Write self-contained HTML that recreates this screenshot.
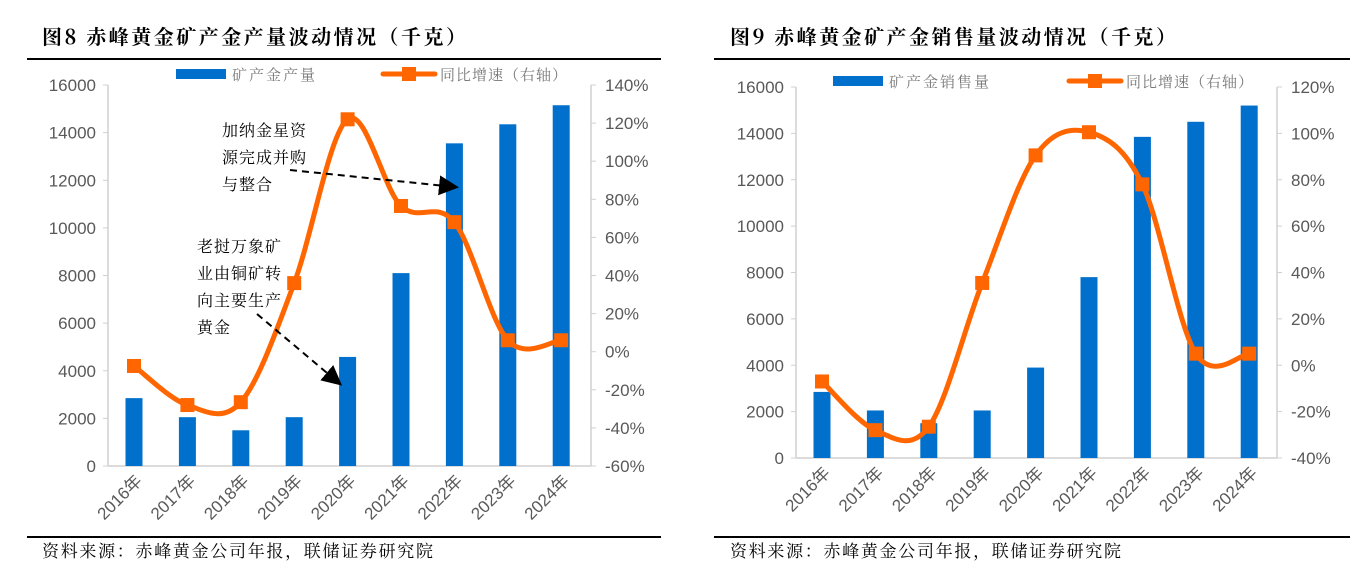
<!DOCTYPE html>
<html><head><meta charset="utf-8">
<style>
html,body{margin:0;padding:0;background:#fff;width:1366px;height:576px;overflow:hidden}
svg text{font-family:"Liberation Sans","Noto Sans CJK SC",sans-serif}
.cn{font-family:"Noto Serif CJK SC","Liberation Serif",serif}
</style></head>
<body>
<svg id="root" width="1366" height="576" viewBox="0 0 1366 576" xmlns="http://www.w3.org/2000/svg">
<defs><marker id="ah" markerWidth="10" markerHeight="10" refX="8" refY="5" orient="auto"><path d="M0,0 L10,5 L0,10 z" fill="#000"/></marker></defs>
</svg>
<script>
const years = ["2016年","2017年","2018年","2019年","2020年","2021年","2022年","2023年","2024年"];
const prodValues = [2850, 2050, 1500, 2050, 4580, 8100, 13550, 14350, 15150];
const prodGrowth = [-7.5, -28, -26.5, 36, 122, 76.5, 68, 6, 6];
const salesValues = [2850, 2050, 1500, 2050, 3900, 7800, 13850, 14500, 15200];
const salesGrowth = [-7, -28, -26.5, 35.5, 90.5, 100.5, 78, 5, 5];
const leftTicks = [0,2000,4000,6000,8000,10000,12000,14000,16000];
const rightTicks1 = [-60,-40,-20,0,20,40,60,80,100,120,140];
const rightTicks2 = [-40,-20,0,20,40,60,80,100,120];

const NS="http://www.w3.org/2000/svg";
const root=document.getElementById('root');
function mk(tag,attrs,parent,txt){const e=document.createElementNS(NS,tag);for(const k in attrs)e.setAttribute(k,attrs[k]);if(txt!==undefined)e.textContent=txt;(parent||root).appendChild(e);return e;}

function smooth(pts){let d=`M${pts[0][0]},${pts[0][1]}`;for(let i=0;i<pts.length-1;i++){const p0=pts[Math.max(i-1,0)],p1=pts[i],p2=pts[i+1],p3=pts[Math.min(i+2,pts.length-1)];const t=6;d+=` C${p1[0]+(p2[0]-p0[0])/t},${p1[1]+(p2[1]-p0[1])/t} ${p2[0]-(p3[0]-p1[0])/t},${p2[1]-(p3[1]-p1[1])/t} ${p2[0]},${p2[1]}`;}return d;}

function chart(cfg){
  const g=mk('g',{});
  
  
  const t=mk('text',{x:cfg.titleX,y:44,'font-size':20,'font-weight':'bold',fill:'#000',class:'cn',textLength:cfg.titleW,lengthAdjust:'spacing'},g,cfg.title);
  
  
  mk('line',{x1:cfg.lineX1,x2:cfg.lineX2,y1:59,y2:59,stroke:'#000','stroke-width':2},g);
  mk('line',{x1:cfg.lineX1,x2:cfg.lineX2,y1:537,y2:537,stroke:'#000','stroke-width':2},g);
  const src=mk('text',{x:cfg.titleX,y:557,'font-size':17,fill:'#000',class:'cn',textLength:391,lengthAdjust:'spacing'},g,'资料来源：赤峰黄金公司年报，联储证券研究院');
  
  
  const yL=v=>cfg.y0-(v/16000)*(cfg.y0-cfg.yTop);
  const yR=v=>cfg.y0-(v-cfg.rMin)/(cfg.rMax-cfg.rMin)*(cfg.y0-cfg.yTop);
  const xC=i=>cfg.x0+i*cfg.step;
  mk('line',{x1:cfg.axL,x2:cfg.axL,y1:cfg.yTop,y2:cfg.y0,stroke:'#d0d0d0','stroke-width':1.5},g);
  mk('line',{x1:cfg.axR,x2:cfg.axR,y1:cfg.yTop,y2:cfg.y0,stroke:'#d0d0d0','stroke-width':1.5},g);
  mk('line',{x1:cfg.axL,x2:cfg.axR,y1:cfg.y0,y2:cfg.y0,stroke:'#d0d0d0','stroke-width':1.5},g);
  leftTicks.forEach(v=>{mk('line',{x1:cfg.axL-5,x2:cfg.axL,y1:yL(v),y2:yL(v),stroke:'#d0d0d0'},g);
    const e=mk('text',{x:cfg.axL-12,y:yL(v)+6,'text-anchor':'end','font-size':17,fill:'#595959'},g,v);
    
    });
  cfg.rTicks.forEach(v=>{mk('line',{x1:cfg.axR,x2:cfg.axR+5,y1:yR(v),y2:yR(v),stroke:'#d0d0d0'},g);
    const e=mk('text',{x:cfg.axR+14,y:yR(v)+6,'font-size':17,fill:'#595959'},g,v+'%');
    
    });
  cfg.vals.forEach((v,i)=>{const b=mk('rect',{x:xC(i)-8.5,y:yL(v),width:17,height:cfg.y0-yL(v),fill:'#0070CC'},g);
    
    });
  years.forEach((s,i)=>{const e=mk('text',{x:0,y:0,'text-anchor':'end','font-size':17,fill:'#595959',transform:`translate(${xC(i)+9},${cfg.y0+16}) rotate(-45)`},g,s);
    
    });
  const pts=cfg.growth.map((v,i)=>[xC(i),yR(v)]);
  const ln=mk('path',{d:smooth(pts),fill:'none',stroke:'#FF6600','stroke-width':5,'stroke-linecap':'round'},g);
  
  
  pts.forEach((p,i)=>{const m=mk('rect',{x:p[0]-7,y:p[1]-7,width:14,height:14,fill:'#FF6600'},g);
    
    });
  const l1=mk('rect',{x:cfg.lg1,y:cfg.lgY-5,width:50,height:10,fill:'#0070CC'},g);
  
  
  const lt1=mk('text',{x:cfg.lg1+56,y:cfg.lgY+6,'font-size':15,fill:'#777',class:'cn','letter-spacing':2},g,cfg.barLabel);
  
  
  mk('line',{x1:cfg.lg2,x2:cfg.lg2+52,y1:cfg.lgY,y2:cfg.lgY,stroke:'#FF6600','stroke-width':5,'stroke-linecap':'round'},g);
  const l2=mk('rect',{x:cfg.lg2+19,y:cfg.lgY-7,width:14,height:14,fill:'#FF6600'},g);
  
  
  const lt2=mk('text',{x:cfg.lg2+57,y:cfg.lgY+6,'font-size':15,fill:'#777',class:'cn','letter-spacing':1},g,'同比增速（右轴）');
  
  
  return g;
}
const g1=chart({name:'chart-production',title:'图8  赤峰黄金矿产金产量波动情况（千克）',titleX:42,titleW:424,lineX1:27,lineX2:661,
 y0:466,yTop:85,x0:134,step:53.4,axL:108,axR:591,rMin:-60,rMax:140,rTicks:rightTicks1,vals:prodValues,growth:prodGrowth,
 lg1:176,lgY:74,lg2:383,barLabel:'矿产金产量'});
const g2=chart({name:'chart-sales',title:'图9  赤峰黄金矿产金销售量波动情况（千克）',titleX:730,titleW:446,lineX1:714,lineX2:1350,
 y0:458,yTop:87,x0:822,step:53.4,axL:796,axR:1277,rMin:-40,rMax:120,rTicks:rightTicks2,vals:salesValues,growth:salesGrowth,
 lg1:833,lgY:81,lg2:1069,barLabel:'矿产金销售量'});
function ann(lines,x,y){lines.forEach((s,i)=>{const e=mk('text',{x:x,y:y+i*27,'font-size':16,fill:'#000',class:'cn','letter-spacing':1},g1,s);
  
  });}
ann(['加纳金星资','源完成并购','与整合'],222,136);
ann(['老挝万象矿','业由铜矿转','向主要生产','黄金'],197,252);
const a1=mk('line',{x1:290,y1:170,x2:455,y2:187,stroke:'#000','stroke-width':2,'stroke-dasharray':'7,5','marker-end':'url(#ah)'},g1);


const a2=mk('line',{x1:257,y1:314,x2:339,y2:383,stroke:'#000','stroke-width':2,'stroke-dasharray':'7,5','marker-end':'url(#ah)'},g1);


</script>
</body></html>
